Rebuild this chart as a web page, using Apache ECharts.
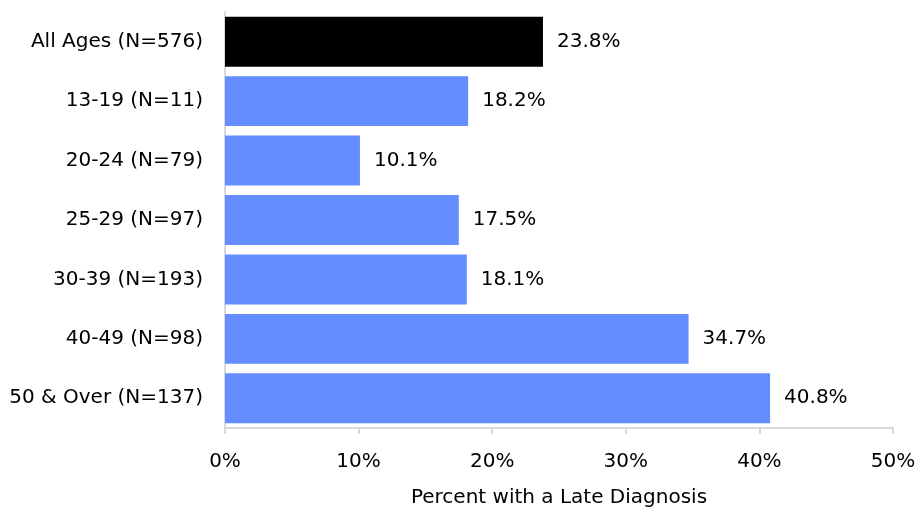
<!DOCTYPE html>
<html><head><meta charset="utf-8">
<script src="https://cdn.jsdelivr.net/npm/echarts@6/dist/echarts.min.js"></script>
<style>html,body{margin:0;padding:0;background:#fff}#c{width:921px;height:511px}</style>
</head><body><div id="c"></div>
<script>
const categories = ['All Ages (N=576)','13-19 (N=11)','20-24 (N=79)','25-29 (N=97)','30-39 (N=193)','40-49 (N=98)','50 & Over (N=137)'];
const values = [23.8, 18.2, 10.1, 17.5, 18.1, 34.7, 40.8];
const barColors = ['#000000','#648eff','#648eff','#648eff','#648eff','#648eff','#648eff'];
const xTicks = [0, 10, 20, 30, 40, 50];
const axisTitle = 'Percent with a Late Diagnosis';

const font = 'DejaVu Sans';
const chart = echarts.init(document.getElementById('c'));
chart.setOption({
  animation: false,
  textStyle: {fontFamily: font},
  grid: {left: 225, right: 28, top: 12, bottom: 83, containLabel: false, outerBoundsMode: 'none'},
  xAxis: {
    type: 'value', min: xTicks[0], max: xTicks[xTicks.length-1], interval: 10,
    axisLine: {show: true, lineStyle: {color: '#d9d9d9', width: 2}},
    axisTick: {show: true, length: 6, lineStyle: {color: '#d9d9d9', width: 2}},
    splitLine: {show: false},
    axisLabel: {formatter: v => v + '%', color: '#000', fontSize: 20, fontFamily: font, margin: 24},
    name: axisTitle, nameLocation: 'middle', nameGap: 60,
    nameTextStyle: {color: '#000', fontSize: 20, fontFamily: font}
  },
  yAxis: {
    type: 'category', data: categories, inverse: true,
    axisLine: {show: true, lineStyle: {color: '#d9d9d9', width: 2}},
    axisTick: {show: false},
    axisLabel: {color: '#000', fontSize: 20, fontFamily: font, margin: 22}
  },
  series: [{
    type: 'bar', barWidth: '84%',
    data: values.map((v, i) => ({value: v, itemStyle: {color: barColors[i]}})),
    label: {show: true, position: 'right', distance: 14, formatter: p => p.value.toFixed(1) + '%', color: '#000', fontSize: 20, fontFamily: font}
  }]
});
</script></body></html>
